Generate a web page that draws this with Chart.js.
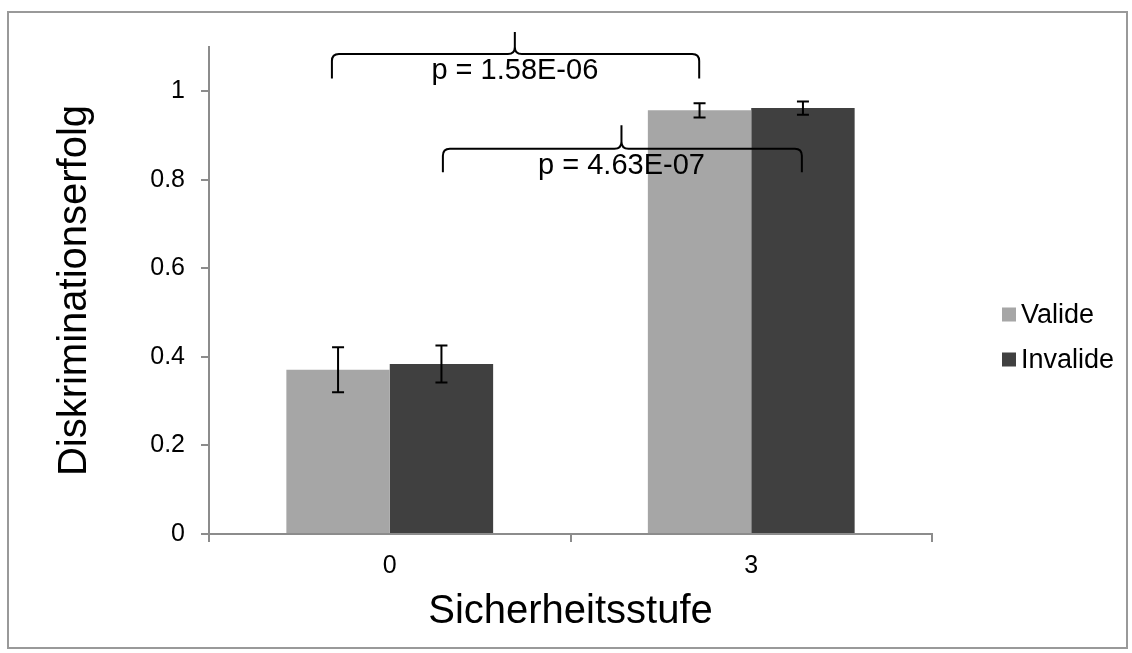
<!DOCTYPE html>
<html>
<head>
<meta charset="utf-8">
<script src="https://cdn.jsdelivr.net/npm/chart.js@4.4.1/dist/chart.umd.min.js"></script>
<style>
  html, body { margin: 0; padding: 0; background: #fff; }
  #frame { position: absolute; left: 7px; top: 11px; width: 1117px; height: 634px; border: 2px solid #999; }
  #chart { position: absolute; left: 0; top: 0; }
</style>
</head>
<body>
<div id="frame"></div>
<canvas id="chart" width="1132" height="653"></canvas>
<script>
// Daten
const categories = ['0', '3'];
const seriesNames = ['Valide', 'Invalide'];
const validValues = [0.371, 0.957];
const validErrors = [0.051, 0.016];
const invalidValues = [0.384, 0.962];
const invalidErrors = [0.042, 0.015];
const yTicks = [0, 0.2, 0.4, 0.6, 0.8, 1];

// Signifikanz-Klammern (x als Kategorie-Index, y in Datenwerten)
const brackets = [
    { x1: -0.160, x2: 0.856, xTip: 0.346, yLine: 1.084, yEnd: 1.029, yTip: 1.134, yText: 1.027, label: 'p = 1.58E-06' },
    { x1: 0.147, x2: 1.140, xTip: 0.641, yLine: 0.870, yEnd: 0.817, yTip: 0.923, yText: 0.813, label: 'p = 4.63E-07' }
];

const FONT = '"Liberation Sans", Arial, sans-serif';
const AXIS_GREY = '#8c8c8c';

// Fehlerbalken zeichnen
const errorBarPlugin = {
    id: 'errorBars',
    afterDatasetsDraw(chart) {
        const ctx = chart.ctx;
        const y = chart.scales.y;
        const errs = [validErrors, invalidErrors];
        ctx.save();
        ctx.strokeStyle = '#000';
        ctx.lineWidth = 2;
        chart.data.datasets.forEach((ds, i) => {
            const meta = chart.getDatasetMeta(i);
            meta.data.forEach((bar, j) => {
                const v = ds.data[j];
                const e = errs[i][j];
                const top = y.getPixelForValue(v + e);
                const bot = y.getPixelForValue(v - e);
                ctx.beginPath();
                ctx.moveTo(bar.x, top);
                ctx.lineTo(bar.x, bot);
                ctx.moveTo(bar.x - 6, top);
                ctx.lineTo(bar.x + 6, top);
                ctx.moveTo(bar.x - 6, bot);
                ctx.lineTo(bar.x + 6, bot);
                ctx.stroke();
            });
        });
        ctx.restore();
    }
};

// geschweifte Klammern mit p-Werten
const bracketPlugin = {
    id: 'brackets',
    afterDraw(chart) {
        const ctx = chart.ctx;
        const xs = chart.scales.x;
        const ys = chart.scales.y;
        const r = 7;
        ctx.save();
        ctx.strokeStyle = '#000';
        ctx.lineWidth = 2;
        brackets.forEach(b => {
            const x1 = xs.getPixelForValue(b.x1);
            const x2 = xs.getPixelForValue(b.x2);
            const xt = xs.getPixelForValue(b.xTip);
            const yl = ys.getPixelForValue(b.yLine);
            const ye = ys.getPixelForValue(b.yEnd);
            const yt = ys.getPixelForValue(b.yTip);
            ctx.beginPath();
            ctx.moveTo(x1, ye);
            ctx.lineTo(x1, yl + r);
            ctx.quadraticCurveTo(x1, yl, x1 + r, yl);
            ctx.lineTo(xt - r, yl);
            ctx.quadraticCurveTo(xt, yl, xt, yl - r);
            ctx.lineTo(xt, yt);
            ctx.moveTo(xt, yl - r);
            ctx.quadraticCurveTo(xt, yl, xt + r, yl);
            ctx.lineTo(x2 - r, yl);
            ctx.quadraticCurveTo(x2, yl, x2, yl + r);
            ctx.lineTo(x2, ye);
            ctx.stroke();

            ctx.fillStyle = '#000';
            ctx.font = '29px ' + FONT;
            ctx.textAlign = 'center';
            ctx.textBaseline = 'alphabetic';
            ctx.fillText(b.label, xt, ys.getPixelForValue(b.yText));
        });
        ctx.restore();
    }
};

// Legende rechts
const legendPlugin = {
    id: 'sideLegend',
    afterDraw(chart) {
        const ctx = chart.ctx;
        const left = chart.chartArea.right + 70;
        const midY = 337;
        ctx.save();
        ctx.font = '27px ' + FONT;
        ctx.textBaseline = 'middle';
        ctx.textAlign = 'left';
        chart.data.datasets.forEach((ds, i) => {
            const cy = midY + (i - 0.5) * 45;
            ctx.fillStyle = ds.backgroundColor;
            ctx.fillRect(left, cy - 7, 14, 14);
            ctx.fillStyle = '#000';
            ctx.fillText(ds.label, left + 19, cy + 1);
        });
        ctx.restore();
    }
};

const ctx = document.getElementById('chart').getContext('2d');
new Chart(ctx, {
    type: 'bar',
    data: {
        labels: categories,
        datasets: [
            { label: seriesNames[0], data: validValues, backgroundColor: '#a6a6a6' },
            { label: seriesNames[1], data: invalidValues, backgroundColor: '#404040' }
        ]
    },
    options: {
        responsive: false,
        devicePixelRatio: 1,
        animation: false,
        categoryPercentage: 0.572,
        barPercentage: 1.0,
        layout: { padding: { top: 47, right: 200, bottom: 0, left: 0 } },
        plugins: {
            legend: { display: false },
            tooltip: { enabled: false }
        },
        scales: {
            x: {
                grid: { offset: true, drawOnChartArea: false, tickLength: 8, color: AXIS_GREY, lineWidth: 2 },
                border: { color: AXIS_GREY, width: 2 },
                ticks: { color: '#000', font: { family: FONT, size: 25 }, padding: 9 },
                title: { display: true, text: 'Sicherheitsstufe', color: '#000', font: { family: FONT, size: 40 }, padding: 17 },
                afterFit: s => { s.height = 119; }
            },
            y: {
                min: 0,
                max: 1.1,
                afterBuildTicks: s => { s.ticks = yTicks.map(v => ({ value: v })); },
                grid: { drawOnChartArea: false, tickLength: 8, color: AXIS_GREY, lineWidth: 2 },
                border: { color: AXIS_GREY, width: 2 },
                ticks: {
                    color: '#000',
                    font: { family: FONT, size: 25 },
                    padding: 16,
                    callback: v => String(Math.round(v * 10) / 10)
                },
                title: { display: true, text: 'Diskriminationserfolg', color: '#000', font: { family: FONT, size: 40 }, padding: 51 },
                afterFit: s => { s.width = 209; }
            }
        }
    },
    plugins: [errorBarPlugin, bracketPlugin, legendPlugin]
});
</script>
</body>
</html>
